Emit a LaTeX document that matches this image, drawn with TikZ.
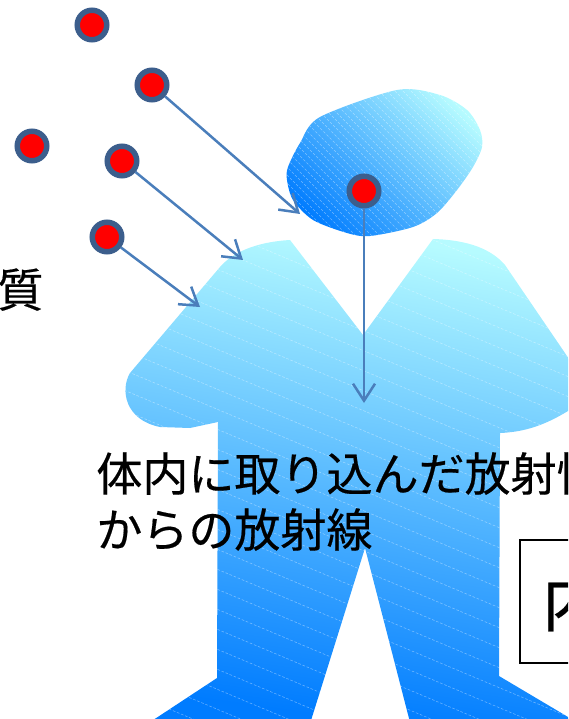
\documentclass[tikz,border=0pt]{standalone}
\usepackage{fontspec}
\newfontfamily\jpfont[FakeBold=0.4]{Noto Sans CJK JP}
\usetikzlibrary{arrows.meta}
\definecolor{figlight}{HTML}{B6FBFF}
\definecolor{figmid}{HTML}{5EB4FF}
\definecolor{figdark}{HTML}{007CFF}
\definecolor{ringblue}{HTML}{3C5E8C}
\definecolor{rayblue}{HTML}{4A7EBB}
\begin{document}
\begin{tikzpicture}[x=.02cm,y=-.02cm,
    dot/.style={circle,fill=red,draw=ringblue,line width=.11cm,minimum size=.59cm,inner sep=0pt},
    ray/.style={rayblue,line width=.05cm,-{Straight Barb[length=.34cm,width=.44cm]}},
    hatch/.style={white,opacity=.4,line width=.3pt,dash pattern=on 1.5pt off 1pt},
    jp/.style={font=\jpfont\fontsize{26.2pt}{31pt}\selectfont,inner sep=0pt},
    namebox/.style={draw,line width=.04cm,font=\jpfont\fontsize{37pt}{44pt}\selectfont,
      anchor=north west,minimum height=2.46cm,text width=3cm,inner xsep=.44cm,inner ysep=0pt,align=left}]
\useasboundingbox (0,0) rectangle (568,719);
\clip (0,0) rectangle (568,719);
% body
\begin{scope}
  \clip (290,240) -- (363,335) -- (433,239) .. controls (470,240) and (492,250) .. (505,265)
    -- (582,378) .. controls (596,400) and (585,408) .. (568,411)
    .. controls (545,425) and (525,432) .. (500,433) -- (499,676) -- (590,730)
    -- (412,730) -- (365,548) -- (308,730) -- (138,730) -- (217,678) -- (218,422)
    -- (190,428) -- (160,427) .. controls (125,420) and (120,390) .. (130,373)
    -- (220,267) .. controls (232,253) and (255,242) .. (290,240) -- cycle;
  \shade[top color=figlight,middle color=figmid,bottom color=figdark,shading angle=-8] (120,236) rectangle (590,719);
  \foreach \k in {0,...,38}
    \draw[hatch] (100,{\k*20}) -- ++(600,252);
\end{scope}
% head
\begin{scope}
  \clip plot[smooth cycle] coordinates {(397,90) (440,95) (467,110) (480,130) (482,147)
    (473,167) (457,190) (437,213) (413,227) (370,236) (347,233) (313,220) (293,200)
    (287,180) (288,167) (300,143) (320,117)};
  \shade[top color=figlight,bottom color=figdark,shading angle=-45] (280,85) rectangle (490,240);
  \foreach \k in {0,...,45}
    \draw[hatch] ({100+\k*8},60) -- ++(200,200);
\end{scope}
% labels
\node[jp,anchor=base west] (shitsu) at (-3,307) {質};
\node[jp,anchor=base west] (line1) at (96,491) {体内に取り込んだ放射性};
\node[jp,anchor=base west] (line2) at (96,547) {からの放射線};
\node[namebox] (naibu) at (519,539) {内};
% particles
\node[dot] (p1) at (92,25) {};
\node[dot] (p2) at (152,85) {};
\node[dot] (p3) at (32,146) {};
\node[dot] (p4) at (122,161) {};
\node[dot] (p5) at (107,237) {};
\node[dot] (p6) at (364,191) {};
\coordinate (h2) at (300,214);
\coordinate (h4) at (243,260);
\coordinate (h5) at (200,307);
\coordinate (h6) at (364,403);
\draw[ray] (p2) -- (h2);
\draw[ray] (p4) -- (h4);
\draw[ray] (p5) -- (h5);
\draw[ray] (p6) -- (h6);
\end{tikzpicture}
\end{document}
